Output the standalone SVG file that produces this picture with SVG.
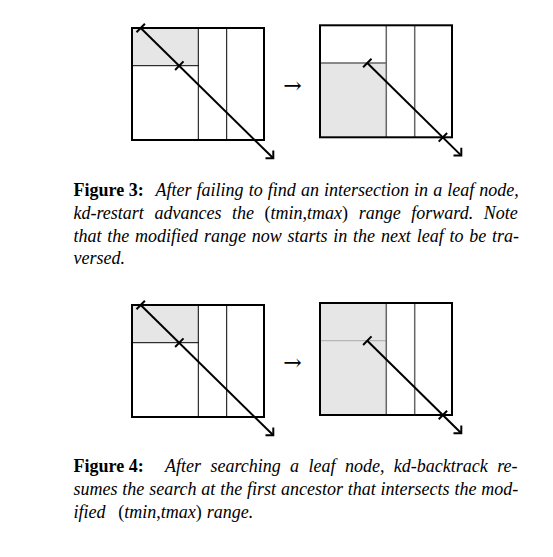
<svg xmlns="http://www.w3.org/2000/svg" width="553" height="557" viewBox="0 0 553 557">
<style>
.bg{fill:#fff}
.shade{fill:#e6e6e6;stroke:none}
.box{fill:none;stroke:#000;stroke-width:2}
.div{stroke:#000;stroke-width:1;fill:none}
.divg{stroke:#666;stroke-width:1.5;fill:none}
.divl{stroke:#aaa;stroke-width:1;fill:none}
.ray{stroke:#000;stroke-width:2;fill:none;stroke-linecap:butt}
.cap{font-family:"Liberation Serif","Times New Roman",serif;font-size:18px;fill:#000}
.b{font-weight:bold;font-style:normal}
.i{font-style:italic}
.n{font-style:normal}
.sym{font-family:"DejaVu Serif","Liberation Serif",serif;font-size:22px;fill:#000}
</style>
<defs>
<path id="tip" class="ray" d="M133.5,130.3 H141.3 V122.5"/>
</defs>
<rect class="bg" x="0" y="0" width="553" height="557"/>

<g id="panel1" transform="translate(132,28)">
<rect class="shade" x="0" y="0" width="66.3" height="37.7"/>
<path class="div" d="M66.3,0 V112 M94.7,0 V112 M0,37.7 H66.3"/>
<rect class="box" x="0" y="0" width="132" height="112"/>
<path class="ray" d="M8.7,0 L141.3,130.3"/>
<path class="ray" d="M4.5,4.3 L12.9,-4.3 M43.1,42 L51.5,33.4"/>
<use href="#tip"/>
</g>

<text id="step1" class="sym" x="292.5" y="93" text-anchor="middle">→</text>

<g id="panel2" transform="translate(320,25.3)">
<rect class="shade" x="0" y="37.7" width="66.3" height="74.3"/>
<path class="divg" d="M66.3,0 V112 M94.7,0 V112 M0,37.7 H66.3"/>
<rect class="box" x="0" y="0" width="132" height="112"/>
<path class="ray" d="M47.3,37.7 L141.3,130.3"/>
<path class="ray" d="M43.1,42 L51.5,33.4 M118.7,116.3 L127.1,107.7"/>
<use href="#tip"/>
</g>

<g id="caption3" class="cap">
<text x="73.5" y="195.5" class="b">Figure 3:</text>
<text x="155.5" y="195.5" class="i" word-spacing="0.6">After failing to find an intersection in a leaf node,</text>
<text x="73.5" y="218.5" class="i" word-spacing="6.1">kd-restart advances the <tspan class="n">(</tspan>tmin<tspan class="n">,</tspan>tmax<tspan class="n">)</tspan> range forward. Note</text>
<text x="73.5" y="241.5" class="i" word-spacing="1.3">that the modified range now starts in the next leaf to be tra-</text>
<text x="73.5" y="264" class="i">versed.</text>
</g>

<g id="panel3" transform="translate(132,305)">
<rect class="shade" x="0" y="0" width="66.3" height="37.7"/>
<path class="div" d="M66.3,0 V112 M94.7,0 V112 M0,37.7 H66.3"/>
<rect class="box" x="0" y="0" width="132" height="112"/>
<path class="ray" d="M8.7,0 L141.3,130.3"/>
<path class="ray" d="M4.5,4.3 L12.9,-4.3 M43.1,42 L51.5,33.4"/>
<use href="#tip"/>
</g>

<text id="step2" class="sym" x="292.5" y="370" text-anchor="middle">→</text>

<g id="panel4" transform="translate(320,303)">
<rect class="shade" x="0" y="0" width="66.3" height="112"/>
<path class="divl" d="M0,37.7 H66.3"/>
<path class="divg" d="M66.3,0 V112 M94.7,0 V112"/>
<rect class="box" x="0" y="0" width="132" height="112"/>
<path class="ray" d="M47.3,37.7 L141.3,130.3"/>
<path class="ray" d="M43.1,42 L51.5,33.4 M118.7,116.3 L127.1,107.7"/>
<use href="#tip"/>
</g>

<g id="caption4" class="cap">
<text x="73.5" y="471.5" class="b">Figure 4:</text>
<text x="165" y="471.5" class="i" word-spacing="4.9">After searching a leaf node, kd-backtrack re-</text>
<text x="73.5" y="494.5" class="i" word-spacing="0.35">sumes the search at the first ancestor that intersects the mod-</text>
<text y="517.5" class="i"><tspan x="73.5">ified</tspan><tspan class="n" x="118.3">(</tspan>tmin<tspan class="n">,</tspan>tmax<tspan class="n">)</tspan><tspan x="206.7">range.</tspan></text>
</g>
</svg>
